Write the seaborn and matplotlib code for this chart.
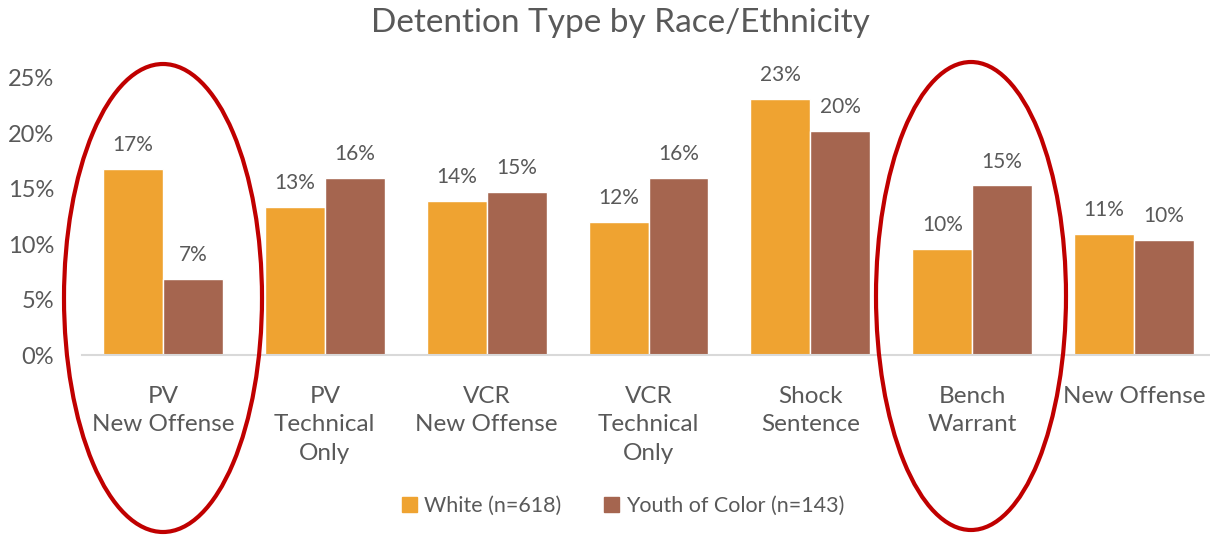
import pandas as pd
import numpy as np
import matplotlib
matplotlib.use("Agg")
import matplotlib.pyplot as plt
import seaborn as sns
from matplotlib.patches import Ellipse, Patch

categories = ["PV\nNew Offense", "PV\nTechnical\nOnly", "VCR\nNew Offense", "VCR\nTechnical\nOnly",
              "Shock\nSentence", "Bench\nWarrant", "New Offense"]
white = [16.8, 13.4, 13.9, 12.0, 23.1, 9.6, 10.9]
youth = [6.9, 16.0, 14.7, 16.0, 20.2, 15.3, 10.4]
groups = ["White (n=618)", "Youth of Color (n=143)"]
colors = ["#EFA331", "#A5654F"]

df = pd.DataFrame({
    "cat": categories * 2,
    "val": white + youth,
    "grp": [groups[0]] * len(categories) + [groups[1]] * len(categories),
})

sns.set_theme(style="white")
plt.rcParams["font.family"] = ["Lato", "DejaVu Sans"]
txt = "#595959"

fig = plt.figure(figsize=(12.1, 5.35), dpi=100)
ax = fig.add_axes([82 / 1210, 1 - 355 / 535, (1215 - 82) / 1210, (355 - 78) / 535])

sns.barplot(data=df, x="cat", y="val", hue="grp", palette=colors, width=0.74,
            saturation=1, ax=ax, legend=False)

for cont in ax.containers:
    vals = [b.get_height() for b in cont]
    ax.bar_label(cont, labels=[f"{round(v):.0f}%" for v in vals], padding=10,
                 fontsize=15, color=txt)

ax.set_ylim(0, 25)
ax.set_xlim(-0.5, 6.5)
ax.set_yticks(np.arange(0, 26, 5))
ax.set_yticklabels([f"{t}%" for t in range(0, 26, 5)], fontsize=17, color=txt)
ax.tick_params(axis="y", length=0, pad=20)
ax.tick_params(axis="x", length=0, pad=22, labelsize=17.5, labelcolor=txt)
for lab in ax.get_xticklabels():
    lab.set_linespacing(1.45)
ax.set_xlabel("")
ax.set_ylabel("")
for s in ["top", "right", "left"]:
    ax.spines[s].set_visible(False)
ax.spines["bottom"].set_color("#D9D9D9")
ax.spines["bottom"].set_linewidth(1.5)

fig.text(0.513, 0.957, "Detention Type by Race/Ethnicity", ha="center", va="center",
         fontsize=24, color=txt)

handles = [Patch(color=c, label=g) for c, g in zip(colors, groups)]
fig.legend(handles=handles, loc="center", bbox_to_anchor=(0.515, 0.055), ncol=2,
           frameon=False, fontsize=15.5, handlelength=0.7, handleheight=0.7,
           handletextpad=0.3, columnspacing=2.0, labelcolor=txt)

# red highlight ellipses (figure pixel coords)
for cx, cy, w, h in [(163, 298, 198, 468), (971, 296, 190, 468)]:
    e = Ellipse((cx / 1210, 1 - cy / 535), w / 1210, h / 535, transform=fig.transFigure,
                fill=False, edgecolor="#C00000", linewidth=3, clip_on=False)
    fig.add_artist(e)

fig.savefig("out.png", dpi=100)
